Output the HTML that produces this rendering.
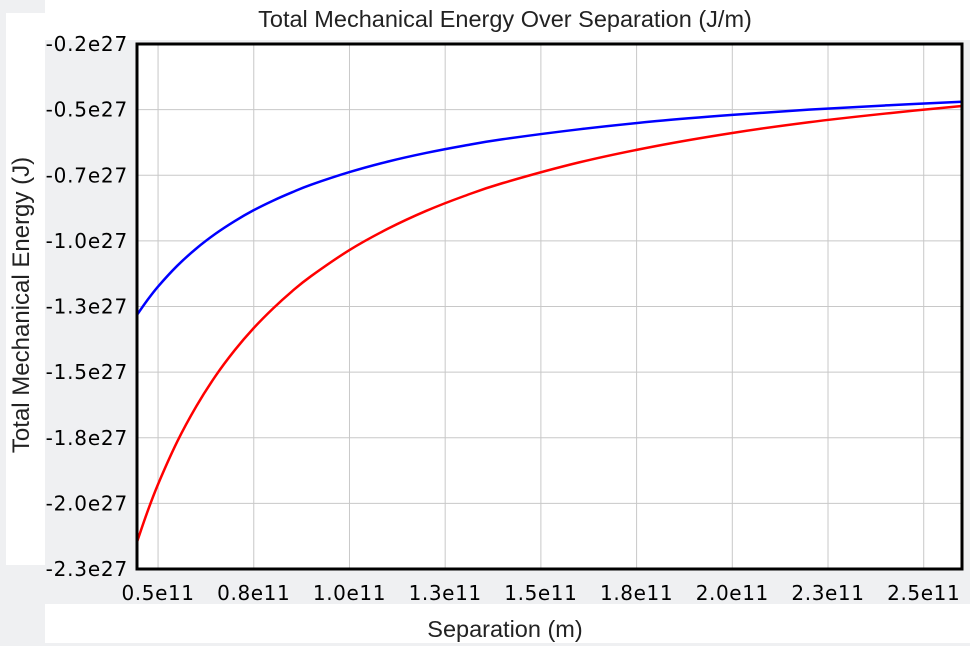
<!DOCTYPE html>
<html><head><meta charset="utf-8"><style>
body{margin:0;width:970px;height:646px;overflow:hidden;background:#eff0f2;font-family:"Liberation Sans",sans-serif}
svg{display:block}
</style></head><body>
<svg id="chart" width="970" height="646">
<rect x="6" y="13" width="39" height="552" fill="#fff"/>
<rect x="45" y="0" width="925" height="40" fill="#fff"/>
<rect x="45" y="604" width="925" height="39" fill="#fff"/>
<rect x="137" y="44" width="825" height="525" fill="#fff"/>
<text x="505" y="27" font-size="23.5" text-anchor="middle" fill="#222">Total Mechanical Energy Over Separation (J/m)</text>
<text x="505" y="637" font-size="23.5" text-anchor="middle" fill="#222">Separation (m)</text>
<text transform="translate(29,305) rotate(-90)" font-size="24" text-anchor="middle" fill="#222">Total Mechanical Energy (J)</text>
<g id="grid"></g><g id="series"></g><g id="ticks"></g>
<rect x="137" y="44" width="825" height="525" fill="none" stroke="#000" stroke-width="3"/>
</svg>
<script>
const xTicks=[0.5,0.75,1.0,1.25,1.5,1.75,2.0,2.25,2.5];
const xTickLabels=["0.5e11","0.8e11","1.0e11","1.3e11","1.5e11","1.8e11","2.0e11","2.3e11","2.5e11"];
const yTicks=[-0.25,-0.5,-0.75,-1.0,-1.25,-1.5,-1.75,-2.0,-2.25];
const yTickLabels=["-0.2e27","-0.5e27","-0.7e27","-1.0e27","-1.3e27","-1.5e27","-1.8e27","-2.0e27","-2.3e27"];
const separation=[0.445,0.47,0.5,0.55,0.6,0.65,0.7,0.75,0.8,0.85,0.9,1.0,1.1,1.2,1.3,1.4,1.6,1.8,2.0,2.2,2.4,2.6];
const redEnergy=[-2.147,-2.041,-1.927,-1.765,-1.630,-1.515,-1.417,-1.332,-1.258,-1.192,-1.134,-1.035,-0.954,-0.886,-0.829,-0.780,-0.701,-0.639,-0.589,-0.548,-0.515,-0.486];
const blueEnergy=[-1.282,-1.230,-1.174,-1.095,-1.029,-0.973,-0.925,-0.883,-0.847,-0.815,-0.786,-0.738,-0.698,-0.665,-0.637,-0.613,-0.575,-0.544,-0.520,-0.500,-0.484,-0.470];
const L=137,R=962,T=44,B=569,xMin=0.445,xMax=2.6,yMax=-0.25,yMin=-2.25;
const X=v=>L+(v-xMin)/(xMax-xMin)*(R-L);
const Y=v=>T+(yMax-v)/(yMax-yMin)*(B-T);
const NS="http://www.w3.org/2000/svg";
const grid=document.getElementById('grid'),ticks=document.getElementById('ticks'),series=document.getElementById('series');
function mk(tag,attrs,parent){const e=document.createElementNS(NS,tag);for(const k in attrs)e.setAttribute(k,attrs[k]);parent.appendChild(e);return e;}
xTicks.forEach((v,i)=>{
 const l=mk('line',{x1:X(v),x2:X(v),y1:T,y2:B,stroke:'#c8c8c8','stroke-width':1},grid);
 
 
 const t=mk('text',{x:X(v),y:B+31,'font-size':20,'letter-spacing':0.6,'text-anchor':'middle','font-family':'DejaVu Sans, sans-serif',fill:'#000'},ticks);
 t.textContent=xTickLabels[i];
 
 
});
yTicks.forEach((v,i)=>{
 const l=mk('line',{x1:L,x2:R,y1:Y(v),y2:Y(v),stroke:'#c8c8c8','stroke-width':1},grid);
 
 
 const t=mk('text',{x:L-9,y:Y(v)+7,'font-size':20,'letter-spacing':0.8,'text-anchor':'end','font-family':'DejaVu Sans, sans-serif',fill:'#000'},ticks);
 t.textContent=yTickLabels[i];
 
 
});
function pathFor(xs,ys){
 const p=xs.map((x,i)=>[X(x),Y(ys[i])]);
 let d='M'+p[0][0]+','+p[0][1];
 for(let i=0;i<p.length-1;i++){
  const p0=p[Math.max(0,i-1)],p1=p[i],p2=p[i+1],p3=p[Math.min(p.length-1,i+2)];
  const c1=[p1[0]+(p2[0]-p0[0])/6,p1[1]+(p2[1]-p0[1])/6];
  const c2=[p2[0]-(p3[0]-p1[0])/6,p2[1]-(p3[1]-p1[1])/6];
  d+=' C'+c1+' '+c2+' '+p2;
 }
 return d;
}
const red=mk('path',{d:pathFor(separation,redEnergy),fill:'none',stroke:'#ff0000','stroke-width':2.5},series);


const blue=mk('path',{d:pathFor(separation,blueEnergy),fill:'none',stroke:'#0000ff','stroke-width':2.5},series);


</script>
</body></html>
